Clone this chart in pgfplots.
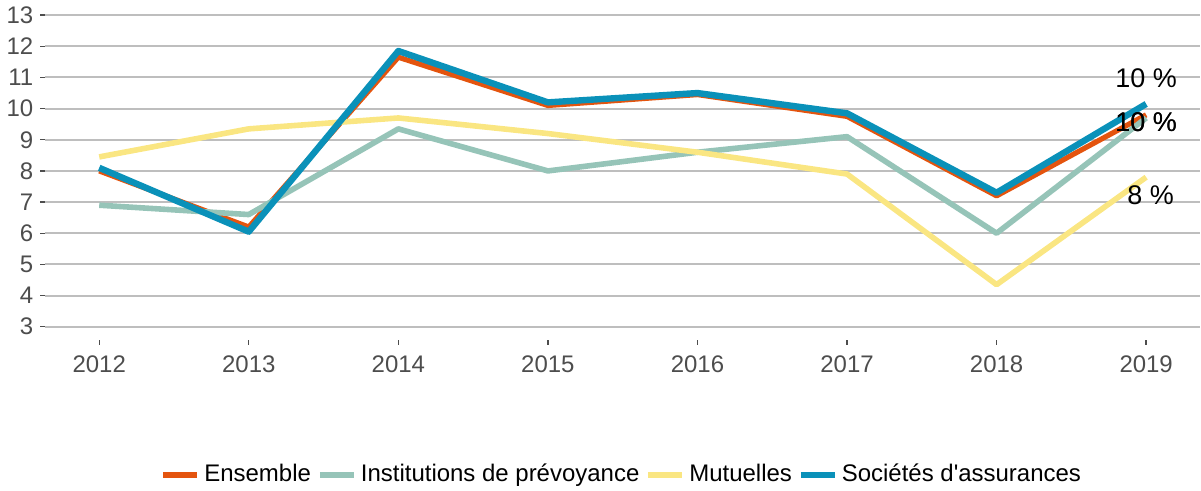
\documentclass[border=0pt]{standalone}
\usepackage{fontspec}
\setmainfont{Liberation Sans}
\usepackage{pgfplots}
\pgfplotsset{compat=1.18}
\newcommand{\sq}{\XeTeXglyph\numexpr\XeTeXcharglyph"0027\relax}
\definecolor{cEns}{RGB}{228,84,14}
\definecolor{cInst}{RGB}{150,196,184}
\definecolor{cMut}{RGB}{250,230,130}
\definecolor{cSoc}{RGB}{10,145,185}
\definecolor{cGrid}{RGB}{190,190,190}
\definecolor{cTick}{RGB}{77,77,77}
\begin{document}
\begin{tikzpicture}
\begin{axis}[
  at={(0pt,0pt)}, anchor=south west,
  scale only axis, width=578pt, height=170pt,
  xmin=-0.36, xmax=7.36, ymin=2.58, ymax=13.48,
  xtick={0,1,2,3,4,5,6,7},
  xticklabels={2012,2013,2014,2015,2016,2017,2018,2019},
  ytick={3,4,5,6,7,8,9,10,11,12,13},
  separate axis lines,
  axis x line*=bottom, axis y line*=left,
  axis line style={draw=none},
  tick align=outside, major tick length=2.5pt,
  tick style={color=cTick, line width=0.7pt},
  ymajorgrids, xmajorgrids=false,
  grid style={color=cGrid, line width=1pt},
  /pgf/number format/assume math mode=true,
  ticklabel style={font=\fontsize{12}{14}\selectfont, text=cTick},
  xticklabel style={yshift=-2pt},
  clip=false,
  legend columns=-1,
  legend style={at={(0.5,-0.397)}, anchor=center, draw=none, fill=none,
    font=\fontsize{12}{14}\selectfont, inner sep=0pt,
    /tikz/every even column/.append style={column sep=1pt}},
  legend image code/.code={\draw[#1, line width=3pt] (0pt,0pt) -- (17pt,0pt);},
]
\addplot[cEns, line width=2.6pt, line join=round] coordinates {
 (0,8.0) (1,6.2) (2,11.65) (3,10.1) (4,10.45) (5,9.75) (6,7.2) (7,9.8)};
\addlegendentry{Ensemble}
\addplot[cInst, line width=2.8pt, line join=round] coordinates {
 (0,6.9) (1,6.6) (2,9.35) (3,8.0) (4,8.6) (5,9.1) (6,6.0) (7,9.7)};
\addlegendentry{Institutions de prévoyance}
\addplot[cMut, line width=2.8pt, line join=round] coordinates {
 (0,8.45) (1,9.35) (2,9.7) (3,9.2) (4,8.6) (5,7.9) (6,4.35) (7,7.8)};
\addlegendentry{Mutuelles}
\addplot[cSoc, line width=3.2pt, line join=round] coordinates {
 (0,8.1) (1,6.05) (2,11.85) (3,10.2) (4,10.5) (5,9.85) (6,7.3) (7,10.15)};
\addlegendentry{Sociétés d\sq assurances}
\node[font=\fontsize{13.5}{16}\selectfont] at (axis cs:7,10.97) {10 \%};
\node[font=\fontsize{13.5}{16}\selectfont] at (axis cs:7,9.57) {10 \%};
\node[font=\fontsize{13.5}{16}\selectfont] at (axis cs:7,9.57) {10 \%};
\node[font=\fontsize{13.5}{16}\selectfont] at (axis cs:7.03,7.23) {8 \%};
\end{axis}
\path (-22.5pt,-75.5pt) rectangle (578pt,170pt);
\end{tikzpicture}
\end{document}
